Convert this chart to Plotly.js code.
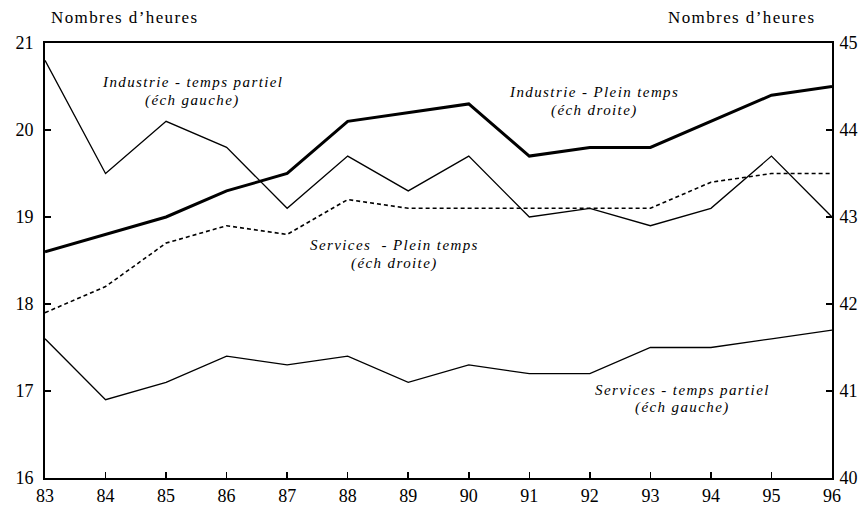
<!DOCTYPE html>
<html>
<head>
<meta charset="utf-8">
<script src="https://cdn.plot.ly/plotly-3.0.1.min.js"></script>
<style>
html,body{margin:0;padding:0;background:#fff;}
#chart{width:866px;height:509px;}
.annotation-text{letter-spacing:1.4px;}
</style>
</head>
<body>
<div id="chart"></div>
<script>
const years = [83,84,85,86,87,88,89,90,91,92,93,94,95,96];
const industriePleinTemps = [42.6,42.8,43.0,43.3,43.5,44.1,44.2,44.3,43.7,43.8,43.8,44.1,44.4,44.5];
const industrieTempsPartiel = [20.8,19.5,20.1,19.8,19.1,19.7,19.3,19.7,19.0,19.1,18.9,19.1,19.7,19.0];
const servicesPleinTemps = [41.9,42.2,42.7,42.9,42.8,43.2,43.1,43.1,43.1,43.1,43.1,43.4,43.5,43.5];
const servicesTempsPartiel = [17.6,16.9,17.1,17.4,17.3,17.4,17.1,17.3,17.2,17.2,17.5,17.5,17.6,17.7];
const leftTicks = [16,17,18,19,20,21];
const rightTicks = [40,41,42,43,44,45];

const serif = "Liberation Serif";
const traces = [
  {x: years, y: industrieTempsPartiel, yaxis: 'y', mode: 'lines', line: {color: '#000', width: 1.3}, name: 'Industrie - temps partiel'},
  {x: years, y: servicesTempsPartiel, yaxis: 'y', mode: 'lines', line: {color: '#000', width: 1.3}, name: 'Services - temps partiel'},
  {x: years, y: industriePleinTemps, yaxis: 'y2', mode: 'lines', line: {color: '#000', width: 3}, name: 'Industrie - Plein temps'},
  {x: years, y: servicesPleinTemps, yaxis: 'y2', mode: 'lines', line: {color: '#000', width: 1.6, dash: '4px,3px'}, name: 'Services - Plein temps'}
];

const annFont = {family: serif, size: 15, color: '#000', style: 'italic'};
function ann(x, y, text) {
  return {x: x, y: y, xref: 'paper', yref: 'paper', text: text, showarrow: false, font: annFont, xanchor: 'center', yanchor: 'middle', align: 'center'};
}
function px(xp){ return (xp-45)/(832-45); }
function py(yp){ return (478-yp)/(478-43); }

const layout = {
  width: 866, height: 509,
  margin: {l: 45, r: 34, t: 43, b: 31},
  paper_bgcolor: '#fff', plot_bgcolor: '#fff',
  showlegend: false,
  font: {family: serif, size: 18, color: '#000'},
  xaxis: {
    range: [83, 96], tickvals: years, ticktext: years.map(String),
    showgrid: false, zeroline: false, showline: true, linecolor: '#000', linewidth: 2,
    mirror: true, ticks: 'inside', ticklen: 6, tickwidth: 1.5, tickcolor: '#000',
    tickfont: {family: serif, size: 18}
  },
  yaxis: {
    range: [16, 21], tickvals: leftTicks,
    showgrid: false, zeroline: false, showline: true, linecolor: '#000', linewidth: 2,
    ticks: 'inside', ticklen: 6, tickwidth: 1.5, tickcolor: '#000',
    tickfont: {family: serif, size: 18}, ticklabelstandoff: 6
  },
  yaxis2: {
    range: [40, 45], tickvals: rightTicks, overlaying: 'y', side: 'right',
    showgrid: false, zeroline: false, showline: true, linecolor: '#000', linewidth: 2,
    ticks: 'inside', ticklen: 6, tickwidth: 1.5, tickcolor: '#000',
    tickfont: {family: serif, size: 18}, ticklabelstandoff: 2
  },
  annotations: [
    {x: 0, y: py(18), xref: 'paper', yref: 'paper', text: "Nombres d’heures", showarrow: false, xanchor: 'left', yanchor: 'middle', xshift: 4, font: {family: serif, size: 17, color: '#000'}},
    {x: 1, y: py(18), xref: 'paper', yref: 'paper', text: "Nombres d’heures", showarrow: false, xanchor: 'right', yanchor: 'middle', xshift: -14, font: {family: serif, size: 17, color: '#000'}},
    ann(px(192), py(82), 'Industrie - temps partiel'),
    ann(px(192), py(100), '(éch gauche)'),
    ann(px(594), py(92), 'Industrie - Plein temps'),
    ann(px(594), py(110), '(éch droite)'),
    ann(px(394), py(245), 'Services  - Plein temps'),
    ann(px(394), py(263), '(éch droite)'),
    ann(px(682), py(390), 'Services - temps partiel'),
    ann(px(682), py(407), '(éch gauche)')
  ]
};

Plotly.newPlot('chart', traces, layout, {staticPlot: true, displayModeBar: false});
</script>
</body>
</html>
